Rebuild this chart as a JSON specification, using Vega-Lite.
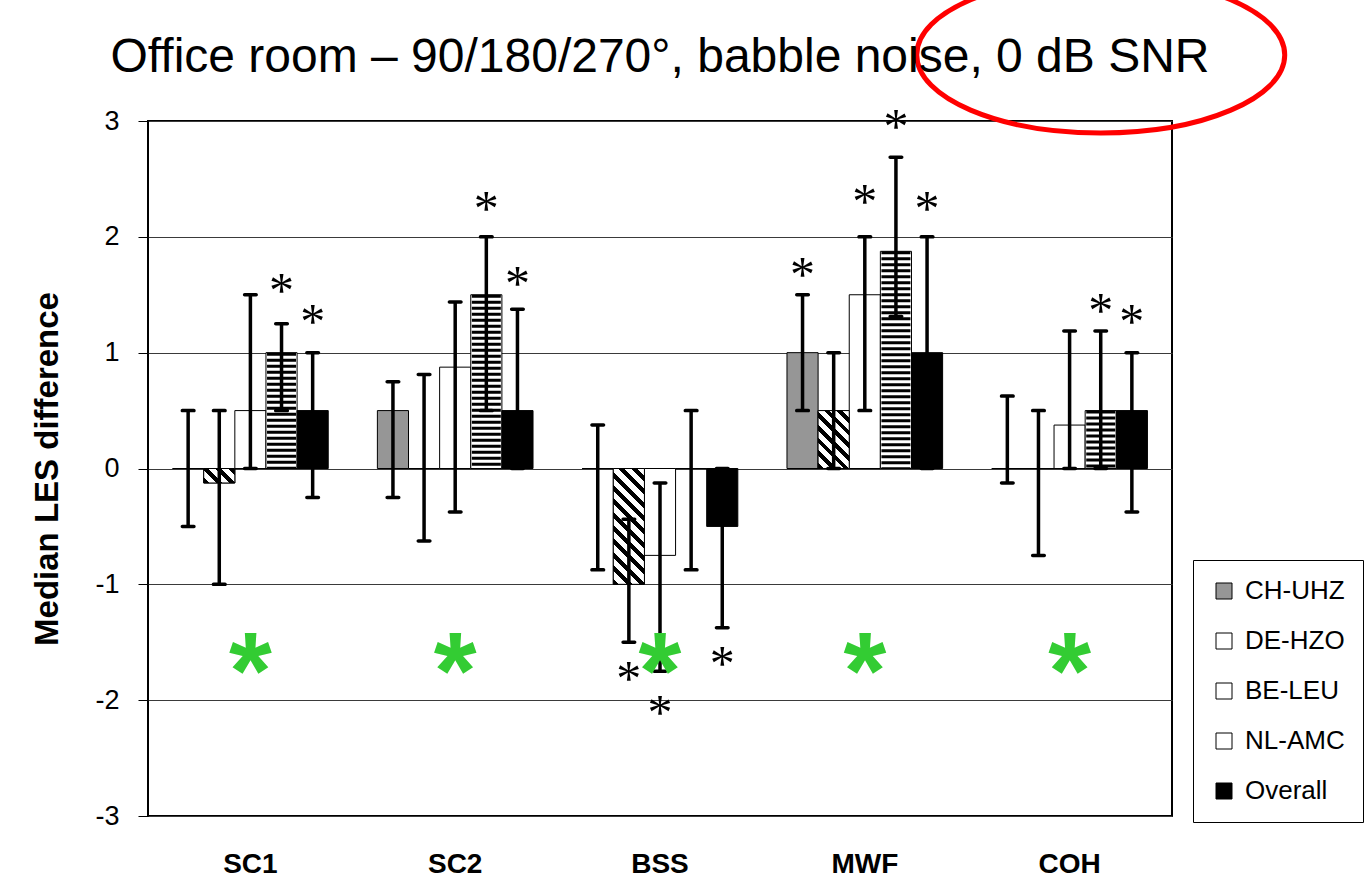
{
  "$schema": "https://vega.github.io/schema/vega-lite/v6.json",
  "width": 1024,
  "height": 695,
  "autosize": {"type": "none"},
  "padding": {"left": 148, "top": 121, "right": 194, "bottom": 65},
  "background": "white",
  "title": {"text": "Office room – 90/180/270°, babble noise, 0 dB SNR", "fontSize": 48, "font": "Liberation Sans", "fontWeight": "normal", "color": "black", "anchor": "middle", "baseline": "alphabetic", "offset": -153},
  "data": {"values": [
    {"group": "SC1", "series": "CH-UHZ", "v": 0, "lo": -0.5, "hi": 0.5, "star": null},
    {"group": "SC1", "series": "DE-HZO", "v": -0.125, "lo": -1, "hi": 0.5, "star": null},
    {"group": "SC1", "series": "BE-LEU", "v": 0.5, "lo": 0, "hi": 1.5, "star": null},
    {"group": "SC1", "series": "NL-AMC", "v": 1, "lo": 0.5, "hi": 1.25, "star": 1.61},
    {"group": "SC1", "series": "Overall", "v": 0.5, "lo": -0.25, "hi": 1, "star": 1.34},
    {"group": "SC2", "series": "CH-UHZ", "v": 0.5, "lo": -0.25, "hi": 0.75, "star": null},
    {"group": "SC2", "series": "DE-HZO", "v": 0, "lo": -0.625, "hi": 0.8125, "star": null},
    {"group": "SC2", "series": "BE-LEU", "v": 0.875, "lo": -0.375, "hi": 1.4375, "star": null},
    {"group": "SC2", "series": "NL-AMC", "v": 1.5, "lo": 0.5, "hi": 2, "star": 2.32},
    {"group": "SC2", "series": "Overall", "v": 0.5, "lo": 0, "hi": 1.375, "star": 1.67},
    {"group": "BSS", "series": "CH-UHZ", "v": 0, "lo": -0.875, "hi": 0.375, "star": null},
    {"group": "BSS", "series": "DE-HZO", "v": -1, "lo": -1.5, "hi": -0.4375, "star": -1.74},
    {"group": "BSS", "series": "BE-LEU", "v": -0.75, "lo": -1.75, "hi": -0.125, "star": -2.03},
    {"group": "BSS", "series": "NL-AMC", "v": 0, "lo": -0.875, "hi": 0.5, "star": null},
    {"group": "BSS", "series": "Overall", "v": -0.5, "lo": -1.375, "hi": 0, "star": -1.61},
    {"group": "MWF", "series": "CH-UHZ", "v": 1, "lo": 0.5, "hi": 1.5, "star": 1.75},
    {"group": "MWF", "series": "DE-HZO", "v": 0.5, "lo": 0, "hi": 1, "star": null},
    {"group": "MWF", "series": "BE-LEU", "v": 1.5, "lo": 0.5, "hi": 2, "star": 2.38},
    {"group": "MWF", "series": "NL-AMC", "v": 1.875, "lo": 1.3125, "hi": 2.6875, "star": 3.03},
    {"group": "MWF", "series": "Overall", "v": 1, "lo": 0, "hi": 2, "star": 2.32},
    {"group": "COH", "series": "CH-UHZ", "v": 0, "lo": -0.125, "hi": 0.625, "star": null},
    {"group": "COH", "series": "DE-HZO", "v": 0, "lo": -0.75, "hi": 0.5, "star": null},
    {"group": "COH", "series": "BE-LEU", "v": 0.375, "lo": 0, "hi": 1.1875, "star": null},
    {"group": "COH", "series": "NL-AMC", "v": 0.5, "lo": 0, "hi": 1.1875, "star": 1.44},
    {"group": "COH", "series": "Overall", "v": 0.5, "lo": -0.375, "hi": 1, "star": 1.34}
  ]},
  "layer": [
    {
      "mark": {"type": "bar", "strokeWidth": 1},
      "encoding": {
        "x": {"field": "group", "type": "nominal", "title": null,
          "scale": {"domain": ["SC1", "SC2", "BSS", "MWF", "COH"], "paddingInner": 0.24, "paddingOuter": 0.12},
          "axis": {"labelFontSize": 28, "labelFontWeight": "bold", "labelFont": "Liberation Sans", "labelColor": "black", "labelPadding": 34, "ticks": false, "domain": false, "labelAngle": 0, "grid": false}},
        "xOffset": {"field": "series", "type": "nominal",
          "scale": {"domain": ["CH-UHZ", "DE-HZO", "BE-LEU", "NL-AMC", "Overall"], "paddingInner": 0, "paddingOuter": 0}},
        "y": {"field": "v", "type": "quantitative", "title": "Median LES difference",
          "scale": {"domain": [-3, 3], "nice": false},
          "axis": {"values": [-3, -2, -1, 0, 1, 2, 3], "labelExpr": "'' + datum.value", "grid": true, "gridColor": "#3a3a3a", "gridWidth": 1, "domain": false, "ticks": true, "tickSize": 10, "tickColor": "black", "tickWidth": 1, "labelFontSize": 27, "labelFont": "Liberation Sans", "labelColor": "black", "labelPadding": 19, "titleFontSize": 33, "titleFont": "Liberation Sans", "titleFontWeight": "bold", "titleColor": "black", "titlePadding": 30}},
        "fill": {"field": "series", "type": "nominal",
          "scale": {"domain": ["CH-UHZ", "DE-HZO", "BE-LEU", "NL-AMC", "Overall"],
            "range": ["#969696", "#ffffff", "#ffffff", "#ffffff", "#000000"]},
          "legend": {"orient": "none", "legendX": 1045, "legendY": 439, "title": null, "symbolType": "square", "symbolSize": 256, "symbolStrokeWidth": 1, "labelFontSize": 26, "labelFont": "Liberation Sans", "labelColor": "black", "rowPadding": 24, "padding": 18, "strokeColor": "black", "fillColor": "white", "labelOffset": 8, "cornerRadius": 0}},
        "stroke": {"field": "series", "type": "nominal",
          "scale": {"domain": ["CH-UHZ", "DE-HZO", "BE-LEU", "NL-AMC", "Overall"],
            "range": ["#000000", "#000000", "#000000", "#000000", "#000000"]},
          "legend": {"orient": "none", "legendX": 1045, "legendY": 439, "title": null, "symbolType": "square", "symbolSize": 256, "symbolStrokeWidth": 1, "labelFontSize": 26, "labelFont": "Liberation Sans", "labelColor": "black", "rowPadding": 24, "padding": 18, "strokeColor": "black", "fillColor": "white", "labelOffset": 8, "cornerRadius": 0}}
      }
    },
    {
      "transform": [{"filter": "datum.series === 'DE-HZO' && datum.v !== 0"}],
      "mark": {"type": "bar", "stroke": "black", "strokeWidth": 1},
      "encoding": {
        "x": {"field": "group", "type": "nominal", "title": null},
        "xOffset": {"field": "series", "type": "nominal"},
        "y": {"field": "v", "type": "quantitative", "title": "Median LES difference"},
        "fill": {
          "condition": [
            {"test": "datum.group === 'BSS'", "value": {"gradient": "linear", "x1": 0, "y1": 1, "x2": 0.318, "y2": -0.183, "stops": [
              {"offset": 0, "color": "#000"}, {"offset": 0.0409, "color": "#000"}, {"offset": 0.0409, "color": "#fff"}, {"offset": 0.0909, "color": "#fff"},
              {"offset": 0.0909, "color": "#000"}, {"offset": 0.1318, "color": "#000"}, {"offset": 0.1318, "color": "#fff"}, {"offset": 0.1818, "color": "#fff"},
              {"offset": 0.1818, "color": "#000"}, {"offset": 0.2227, "color": "#000"}, {"offset": 0.2227, "color": "#fff"}, {"offset": 0.2727, "color": "#fff"},
              {"offset": 0.2727, "color": "#000"}, {"offset": 0.3136, "color": "#000"}, {"offset": 0.3136, "color": "#fff"}, {"offset": 0.3636, "color": "#fff"},
              {"offset": 0.3636, "color": "#000"}, {"offset": 0.4045, "color": "#000"}, {"offset": 0.4045, "color": "#fff"}, {"offset": 0.4545, "color": "#fff"},
              {"offset": 0.4545, "color": "#000"}, {"offset": 0.4955, "color": "#000"}, {"offset": 0.4955, "color": "#fff"}, {"offset": 0.5455, "color": "#fff"},
              {"offset": 0.5455, "color": "#000"}, {"offset": 0.5864, "color": "#000"}, {"offset": 0.5864, "color": "#fff"}, {"offset": 0.6364, "color": "#fff"},
              {"offset": 0.6364, "color": "#000"}, {"offset": 0.6773, "color": "#000"}, {"offset": 0.6773, "color": "#fff"}, {"offset": 0.7273, "color": "#fff"},
              {"offset": 0.7273, "color": "#000"}, {"offset": 0.7682, "color": "#000"}, {"offset": 0.7682, "color": "#fff"}, {"offset": 0.8182, "color": "#fff"},
              {"offset": 0.8182, "color": "#000"}, {"offset": 0.8591, "color": "#000"}, {"offset": 0.8591, "color": "#fff"}, {"offset": 0.9091, "color": "#fff"},
              {"offset": 0.9091, "color": "#000"}, {"offset": 0.95, "color": "#000"}, {"offset": 0.95, "color": "#fff"}, {"offset": 1, "color": "#fff"}]}},
            {"test": "datum.group === 'MWF'", "value": {"gradient": "linear", "x1": 0, "y1": 1, "x2": 0.641, "y2": -0.193, "stops": [
              {"offset": 0, "color": "#000"}, {"offset": 0.0643, "color": "#000"}, {"offset": 0.0643, "color": "#fff"}, {"offset": 0.1429, "color": "#fff"},
              {"offset": 0.1429, "color": "#000"}, {"offset": 0.2071, "color": "#000"}, {"offset": 0.2071, "color": "#fff"}, {"offset": 0.2857, "color": "#fff"},
              {"offset": 0.2857, "color": "#000"}, {"offset": 0.35, "color": "#000"}, {"offset": 0.35, "color": "#fff"}, {"offset": 0.4286, "color": "#fff"},
              {"offset": 0.4286, "color": "#000"}, {"offset": 0.4929, "color": "#000"}, {"offset": 0.4929, "color": "#fff"}, {"offset": 0.5714, "color": "#fff"},
              {"offset": 0.5714, "color": "#000"}, {"offset": 0.6357, "color": "#000"}, {"offset": 0.6357, "color": "#fff"}, {"offset": 0.7143, "color": "#fff"},
              {"offset": 0.7143, "color": "#000"}, {"offset": 0.7786, "color": "#000"}, {"offset": 0.7786, "color": "#fff"}, {"offset": 0.8571, "color": "#fff"},
              {"offset": 0.8571, "color": "#000"}, {"offset": 0.9214, "color": "#000"}, {"offset": 0.9214, "color": "#fff"}, {"offset": 1, "color": "#fff"}]}}
          ],
          "value": {"gradient": "linear", "x1": 0, "y1": 1, "x2": 1.205, "y2": 0.439, "stops": [
            {"offset": 0, "color": "#000"}, {"offset": 0.1286, "color": "#000"}, {"offset": 0.1286, "color": "#fff"}, {"offset": 0.2857, "color": "#fff"},
            {"offset": 0.2857, "color": "#000"}, {"offset": 0.4143, "color": "#000"}, {"offset": 0.4143, "color": "#fff"}, {"offset": 0.5714, "color": "#fff"},
            {"offset": 0.5714, "color": "#000"}, {"offset": 0.7, "color": "#000"}, {"offset": 0.7, "color": "#fff"}, {"offset": 0.8571, "color": "#fff"},
            {"offset": 0.8571, "color": "#000"}, {"offset": 0.9857, "color": "#000"}, {"offset": 0.9857, "color": "#fff"}, {"offset": 1, "color": "#fff"}]}
        }
      }
    },
    {
      "transform": [{"filter": "datum.series === 'NL-AMC' && datum.v !== 0"}],
      "mark": {"type": "rule", "color": "black", "strokeWidth": 29, "strokeDash": [3, 3], "strokeCap": "butt"},
      "encoding": {
        "x": {"field": "group", "type": "nominal", "title": null},
        "xOffset": {"field": "series", "type": "nominal"},
        "y": {"field": "v", "type": "quantitative", "title": "Median LES difference"},
        "y2": {"datum": 0}
      }
    },
    {
      "mark": {"type": "rule", "color": "black", "strokeWidth": 3.5},
      "encoding": {
        "x": {"field": "group", "type": "nominal", "title": null},
        "xOffset": {"field": "series", "type": "nominal"},
        "y": {"field": "lo", "type": "quantitative", "title": "Median LES difference"},
        "y2": {"field": "hi"}
      }
    },
    {
      "mark": {"type": "tick", "color": "black", "size": 15, "thickness": 3.5, "opacity": 1, "cornerRadius": 1.7},
      "encoding": {
        "x": {"field": "group", "type": "nominal", "title": null},
        "xOffset": {"field": "series", "type": "nominal"},
        "y": {"field": "lo", "type": "quantitative", "title": "Median LES difference"}
      }
    },
    {
      "mark": {"type": "tick", "color": "black", "size": 15, "thickness": 3.5, "opacity": 1, "cornerRadius": 1.7},
      "encoding": {
        "x": {"field": "group", "type": "nominal", "title": null},
        "xOffset": {"field": "series", "type": "nominal"},
        "y": {"field": "hi", "type": "quantitative", "title": "Median LES difference"}
      }
    },
    {
      "transform": [{"filter": "datum.star !== null"}],
      "mark": {"type": "text", "text": "*", "font": "Liberation Serif", "fontSize": 50, "color": "black", "baseline": "middle", "align": "center", "dy": 10},
      "encoding": {
        "x": {"field": "group", "type": "nominal", "title": null},
        "xOffset": {"field": "series", "type": "nominal"},
        "y": {"field": "star", "type": "quantitative", "title": "Median LES difference"}
      }
    },
    {
      "data": {"values": [
        {"group": "SC1", "g": -1.63},
        {"group": "SC2", "g": -1.63},
        {"group": "BSS", "g": -1.63},
        {"group": "MWF", "g": -1.63},
        {"group": "COH", "g": -1.63}
      ]},
      "mark": {"type": "text", "text": "*", "font": "Liberation Sans", "fontWeight": "bold", "fontSize": 110, "color": "#33cc33", "baseline": "middle", "align": "center", "dy": 18},
      "encoding": {
        "x": {"field": "group", "type": "nominal", "title": null},
        "y": {"field": "g", "type": "quantitative", "title": "Median LES difference"}
      }
    },
    {
      "data": {"values": [{"group": "COH", "series": "NL-AMC", "ey": 3.57}]},
      "mark": {"type": "point", "shape": "M -1 0 A 1 0.424 0 1 1 1 0 A 1 0.424 0 1 1 -1 0 Z", "size": 135424, "filled": false, "stroke": "#ff0000", "strokeWidth": 5, "opacity": 1},
      "encoding": {
        "x": {"field": "group", "type": "nominal", "title": null},
        "xOffset": {"field": "series", "type": "nominal"},
        "y": {"field": "ey", "type": "quantitative", "title": "Median LES difference"}
      }
    }
  ],
  "config": {
    "view": {"stroke": "black", "strokeWidth": 2},
    "font": "Liberation Sans"
  }
}
